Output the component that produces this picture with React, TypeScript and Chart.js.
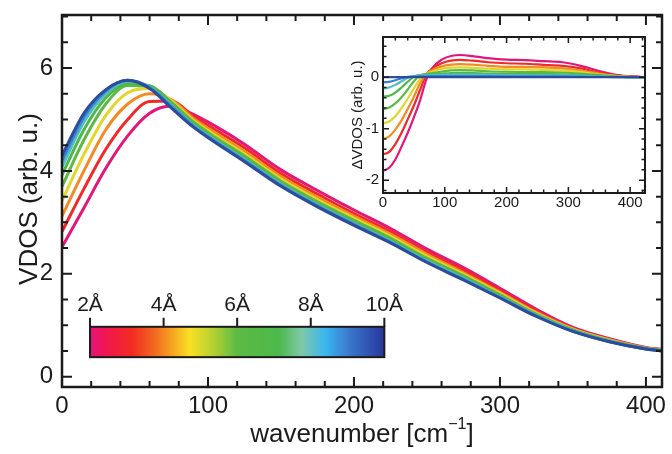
import React, { useEffect, useRef } from 'react';
import { Chart, registerables } from 'chart.js';

Chart.register(...registerables);

// ---------------- data ----------------
const SIZES = ['10Å', '9Å', '8Å', '7Å', '6Å', '5Å', '4Å', '3Å', '2Å'];

const WAVENUMBER = [0, 15, 30, 45, 60, 75, 90, 105, 125, 150, 175, 200, 225, 250, 275, 300, 325, 350, 375, 400, 415];
const VDOS_2A = [2.52, 3.28, 4.05, 4.68, 5.12, 5.26, 5.10, 4.87, 4.52, 4.02, 3.62, 3.24, 2.88, 2.48, 2.12, 1.72, 1.31, 0.96, 0.74, 0.57, 0.52];
const VDOS_3A = [2.82, 3.65, 4.42, 5.00, 5.35, 5.36, 5.06, 4.80, 4.45, 3.95, 3.55, 3.17, 2.82, 2.42, 2.07, 1.68, 1.28, 0.94, 0.73, 0.56, 0.51];
const VDOS_4A = [3.12, 4.00, 4.80, 5.30, 5.50, 5.38, 5.02, 4.74, 4.38, 3.89, 3.49, 3.12, 2.77, 2.38, 2.02, 1.64, 1.25, 0.93, 0.72, 0.56, 0.51];
const VDOS_5A = [3.42, 4.32, 5.08, 5.52, 5.60, 5.36, 4.98, 4.69, 4.33, 3.84, 3.44, 3.08, 2.73, 2.34, 1.99, 1.62, 1.23, 0.92, 0.71, 0.55, 0.50];
const VDOS_6A = [3.70, 4.60, 5.30, 5.66, 5.65, 5.33, 4.95, 4.65, 4.29, 3.80, 3.40, 3.04, 2.69, 2.30, 1.96, 1.59, 1.21, 0.91, 0.70, 0.55, 0.50];
const VDOS_7A = [3.92, 4.80, 5.42, 5.70, 5.65, 5.30, 4.92, 4.61, 4.25, 3.76, 3.36, 3.00, 2.66, 2.27, 1.93, 1.57, 1.20, 0.90, 0.69, 0.55, 0.50];
const VDOS_8A = [4.08, 4.95, 5.50, 5.74, 5.63, 5.27, 4.89, 4.59, 4.22, 3.74, 3.34, 2.98, 2.63, 2.25, 1.91, 1.55, 1.19, 0.89, 0.69, 0.54, 0.49];
const VDOS_9A = [4.20, 5.05, 5.55, 5.76, 5.62, 5.25, 4.87, 4.57, 4.20, 3.72, 3.32, 2.96, 2.61, 2.23, 1.89, 1.54, 1.18, 0.88, 0.68, 0.54, 0.49];
const VDOS_10A = [4.30, 5.12, 5.58, 5.76, 5.60, 5.22, 4.85, 4.55, 4.18, 3.70, 3.30, 2.94, 2.60, 2.22, 1.88, 1.53, 1.17, 0.88, 0.68, 0.54, 0.49];

const INSET_WAVENUMBER = [0, 10, 20, 30, 40, 50, 60, 70, 80, 95, 110, 125, 145, 170, 200, 230, 260, 290, 320, 350, 380, 410, 424];
const DVDOS_2A = [-1.82, -1.76, -1.60, -1.35, -1.08, -0.78, -0.45, -0.05, 0.18, 0.34, 0.41, 0.43, 0.41, 0.37, 0.34, 0.33, 0.31, 0.29, 0.22, 0.12, 0.04, 0.01, 0];
const DVDOS_3A = [-1.50, -1.45, -1.30, -1.08, -0.82, -0.55, -0.25, 0.05, 0.17, 0.27, 0.32, 0.335, 0.32, 0.29, 0.27, 0.26, 0.24, 0.22, 0.17, 0.09, 0.03, 0.01, 0];
const DVDOS_4A = [-1.20, -1.15, -1.02, -0.84, -0.62, -0.38, -0.12, 0.06, 0.14, 0.21, 0.245, 0.255, 0.245, 0.22, 0.20, 0.20, 0.19, 0.17, 0.13, 0.07, 0.02, 0, 0];
const DVDOS_5A = [-0.90, -0.86, -0.76, -0.60, -0.42, -0.22, -0.04, 0.06, 0.11, 0.16, 0.185, 0.19, 0.18, 0.165, 0.15, 0.15, 0.14, 0.13, 0.10, 0.05, 0.02, 0, 0];
const DVDOS_6A = [-0.62, -0.59, -0.51, -0.39, -0.24, -0.08, 0.03, 0.06, 0.08, 0.11, 0.13, 0.135, 0.13, 0.115, 0.105, 0.10, 0.10, 0.09, 0.07, 0.04, 0.01, 0, 0];
const DVDOS_7A = [-0.38, -0.36, -0.30, -0.20, -0.09, 0.01, 0.04, 0.05, 0.06, 0.07, 0.08, 0.085, 0.08, 0.07, 0.065, 0.065, 0.06, 0.055, 0.045, 0.025, 0.01, 0, 0];
const DVDOS_8A = [-0.22, -0.20, -0.15, -0.08, -0.01, 0.02, 0.03, 0.035, 0.04, 0.045, 0.05, 0.05, 0.05, 0.045, 0.04, 0.04, 0.035, 0.035, 0.03, 0.015, 0.005, 0, 0];
const DVDOS_9A = [-0.10, -0.09, -0.06, -0.02, 0.005, 0.01, 0.015, 0.015, 0.02, 0.02, 0.02, 0.02, 0.02, 0.02, 0.015, 0.015, 0.015, 0.015, 0.01, 0.005, 0, 0, 0];
const DVDOS_10A = [0, 0, 0, 0, 0, 0, 0, 0, 0, 0, 0, 0, 0, 0, 0, 0, 0, 0, 0, 0, 0, 0, 0];

const MAIN_VALUES = [VDOS_10A, VDOS_9A, VDOS_8A, VDOS_7A, VDOS_6A, VDOS_5A, VDOS_4A, VDOS_3A, VDOS_2A];
const INSET_VALUES = [DVDOS_10A, DVDOS_9A, DVDOS_8A, DVDOS_7A, DVDOS_6A, DVDOS_5A, DVDOS_4A, DVDOS_3A, DVDOS_2A];

const MAIN_X_TICKS = [0, 100, 200, 300, 400];
const MAIN_Y_TICKS = [0, 2, 4, 6];
const INSET_X_TICKS = [0, 100, 200, 300, 400];
const INSET_Y_TICKS = [-2, -1, 0];
const COLORBAR_LABELS = ['2Å', '4Å', '6Å', '8Å', '10Å'];

// ---------------- styles ----------------
const SERIES_COLORS = ['#2c4c9e', '#3a80d0', '#52bcc4', '#4cb848', '#5cba44', '#e2d62a', '#f48a22', '#f02a28', '#e3167a'];
const COLORBAR_STOPS: [number, string][] = [
  [0.0, '#e5147c'], [0.06, '#f0184c'], [0.14, '#f22a22'], [0.22, '#f26a20'], [0.29, '#f6ae22'],
  [0.34, '#f8e024'], [0.42, '#b4d032'], [0.5, '#5cba44'], [0.64, '#4cb84a'], [0.72, '#80c8a8'],
  [0.8, '#38b6f0'], [0.88, '#3a78cc'], [1.0, '#27369c'],
];
const FONT = '"Liberation Sans", Arial, Helvetica, sans-serif';
const INK = '#1b1b1b';

// ---------------- plugins ----------------
const framePlugin = {
  id: 'frame',
  beforeDatasetsDraw(chart: any, _a: any, o: any) {
    if (!o || !o.fillBg) return;
    const { ctx, chartArea: a } = chart;
    ctx.save();
    ctx.fillStyle = '#fff';
    ctx.fillRect(a.left, a.top, a.right - a.left, a.bottom - a.top);
    ctx.restore();
  },
  afterDatasetsDraw(chart: any, _a: any, o: any) {
    if (!o || !o.enabled) return;
    const { ctx, chartArea: a } = chart;
    const xs = chart.scales.x, ys = chart.scales.y;
    ctx.save();
    ctx.strokeStyle = INK;
    ctx.lineWidth = o.tickWidth;
    ctx.beginPath();
    const isMajor = (v: number, step: number) => Math.abs(v / step - Math.round(v / step)) < 1e-6;
    let v = Math.ceil(xs.min / o.xMinor - 1e-9) * o.xMinor;
    for (; v <= xs.max + 1e-9; v += o.xMinor) {
      const len = isMajor(v, o.xMajor) ? o.majorLen : o.minorLen;
      const px = xs.getPixelForValue(v);
      ctx.moveTo(px, a.bottom); ctx.lineTo(px, a.bottom - len);
      ctx.moveTo(px, a.top); ctx.lineTo(px, a.top + len);
    }
    v = Math.ceil(ys.min / o.yMinor - 1e-9) * o.yMinor;
    for (; v <= ys.max + 1e-9; v += o.yMinor) {
      const len = isMajor(v, o.yMajor) ? o.majorLen : o.minorLen;
      const py = ys.getPixelForValue(v);
      ctx.moveTo(a.left, py); ctx.lineTo(a.left + len, py);
      ctx.moveTo(a.right, py); ctx.lineTo(a.right - len, py);
    }
    ctx.stroke();
    ctx.lineWidth = o.frameWidth;
    ctx.strokeRect(a.left, a.top, a.right - a.left, a.bottom - a.top);
    ctx.restore();
  },
};

const titlePlugin = {
  id: 'titles',
  afterDraw(chart: any, _a: any, o: any) {
    if (!o) return;
    const { ctx, chartArea: a } = chart;
    ctx.save();
    ctx.fillStyle = INK;
    ctx.textBaseline = 'alphabetic';
    if (o.x) {
      const x = o.x;
      ctx.font = `${x.size}px ${FONT}`;
      const w1 = ctx.measureText(x.text).width;
      const w3 = ctx.measureText(x.after || '').width;
      ctx.font = `${x.supSize}px ${FONT}`;
      const w2 = x.sup ? ctx.measureText(x.sup).width : 0;
      let sx = (a.left + a.right) / 2 - (w1 + w2 + w3) / 2;
      ctx.textAlign = 'left';
      ctx.font = `${x.size}px ${FONT}`;
      ctx.fillText(x.text, sx, x.baseline);
      sx += w1;
      if (x.sup) {
        ctx.font = `${x.supSize}px ${FONT}`;
        ctx.fillText(x.sup, sx, x.baseline - x.supRise);
        sx += w2;
      }
      ctx.font = `${x.size}px ${FONT}`;
      if (x.after) ctx.fillText(x.after, sx, x.baseline);
    }
    if (o.y) {
      const y = o.y;
      ctx.font = `${y.size}px ${FONT}`;
      ctx.textAlign = 'center';
      ctx.translate(y.baselineX, (a.top + a.bottom) / 2 + (y.shift || 0));
      ctx.rotate(-Math.PI / 2);
      ctx.fillText(y.text, 0, 0);
    }
    ctx.restore();
  },
};

const colorbarPlugin = {
  id: 'colorbar',
  afterDatasetsDraw(chart: any, _a: any, o: any) {
    if (!o || !o.enabled) return;
    const { ctx } = chart;
    const xs = chart.scales.x, ys = chart.scales.y;
    const l = xs.getPixelForValue(o.x0), r = xs.getPixelForValue(o.x1);
    const t = ys.getPixelForValue(o.y1), b = ys.getPixelForValue(o.y0);
    ctx.save();
    const g = ctx.createLinearGradient(l, 0, r, 0);
    COLORBAR_STOPS.forEach(([p, c]) => g.addColorStop(p, c));
    ctx.fillStyle = g;
    ctx.fillRect(l, t, r - l, b - t);
    ctx.strokeStyle = INK;
    ctx.lineWidth = 2;
    ctx.strokeRect(l, t, r - l, b - t);
    ctx.beginPath();
    const n = COLORBAR_LABELS.length;
    ctx.font = `${o.fontSize}px ${FONT}`;
    ctx.fillStyle = INK;
    ctx.textAlign = 'center';
    ctx.textBaseline = 'alphabetic';
    for (let i = 0; i < n; i++) {
      const px = l + ((r - l) * i) / (n - 1);
      ctx.moveTo(px, t);
      ctx.lineTo(px, t - o.tickLen);
      ctx.fillText(COLORBAR_LABELS[i], px, t - o.labelGap);
    }
    ctx.stroke();
    ctx.restore();
  },
};

function makeDatasets(xs: number[], values: number[][], width: number) {
  return values.map((vals, i) => ({
    label: SIZES[i],
    data: xs.map((x, j) => ({ x, y: vals[j] })),
    borderColor: SERIES_COLORS[i],
    backgroundColor: SERIES_COLORS[i],
    borderWidth: width,
    pointRadius: 0,
    fill: false,
    cubicInterpolationMode: 'monotone' as const,
  }));
}

const tickSetter = (arr: number[]) => (s: any) => {
  s.ticks = arr.map((value) => ({ value }));
};

export default function App() {
  const mainRef = useRef<HTMLCanvasElement>(null);
  const insetRef = useRef<HTMLCanvasElement>(null);

  useEffect(() => {
    const main = new Chart(mainRef.current as HTMLCanvasElement, {
      type: 'line',
      data: { datasets: makeDatasets(WAVENUMBER, MAIN_VALUES, 3) as any },
      plugins: [framePlugin, colorbarPlugin, titlePlugin],
      options: {
        responsive: false,
        animation: false,
        events: [],
        layout: { padding: { left: 0, right: 10, top: 15, bottom: 0 } },
        scales: {
          x: {
            type: 'linear', min: 0, max: 411,
            afterBuildTicks: tickSetter(MAIN_X_TICKS),
            afterFit: (s: any) => { s.height = 67; s.paddingLeft = 0; s.paddingRight = 0; },
            grid: { display: false, drawTicks: false },
            border: { display: false },
            ticks: { font: { family: FONT, size: 24 }, color: INK, padding: 5, maxRotation: 0, autoSkip: false },
          },
          y: {
            type: 'linear', min: -0.2, max: 7.03,
            afterBuildTicks: tickSetter(MAIN_Y_TICKS),
            afterFit: (s: any) => { s.width = 62; s.paddingTop = 0; s.paddingBottom = 0; },
            grid: { display: false, drawTicks: false },
            border: { display: false },
            ticks: { font: { family: FONT, size: 24 }, color: INK, padding: 9, autoSkip: false },
          },
        },
        plugins: {
          legend: { display: false },
          tooltip: { enabled: false },
          frame: { enabled: true, xMajor: 100, xMinor: 20, yMajor: 2, yMinor: 0.5, majorLen: 10, minorLen: 6, tickWidth: 2, frameWidth: 2.5 },
          colorbar: { enabled: true, x0: 19.2, x1: 220.8, y0: 0.38, y1: 0.97, tickLen: 9, labelGap: 16, fontSize: 21 },
          titles: {
            x: { text: 'wavenumber [cm', sup: '−1', after: ']', size: 26, supSize: 16, supRise: 13, baseline: 442 },
            y: { text: 'VDOS (arb. u.)', size: 26, baselineX: 37, shift: -2 },
          },
        } as any,
      },
    });

    const inset = new Chart(insetRef.current as HTMLCanvasElement, {
      type: 'line',
      data: { datasets: makeDatasets(INSET_WAVENUMBER, INSET_VALUES, 2.2) as any },
      plugins: [framePlugin, titlePlugin],
      options: {
        responsive: false,
        animation: false,
        events: [],
        layout: { padding: { left: 0, right: 8, top: 7, bottom: 0 } },
        scales: {
          x: {
            type: 'linear', min: 0, max: 424,
            afterBuildTicks: tickSetter(INSET_X_TICKS),
            afterFit: (s: any) => { s.height = 22; s.paddingLeft = 0; s.paddingRight = 0; },
            grid: { display: false, drawTicks: false },
            border: { display: false },
            ticks: { font: { family: FONT, size: 15 }, color: INK, padding: 1, maxRotation: 0, autoSkip: false },
          },
          y: {
            type: 'linear', min: -2.25, max: 0.78,
            afterBuildTicks: tickSetter(INSET_Y_TICKS),
            afterFit: (s: any) => { s.width = 48; s.paddingTop = 0; s.paddingBottom = 0; },
            grid: { display: false, drawTicks: false },
            border: { display: false },
            ticks: { font: { family: FONT, size: 15 }, color: INK, padding: 4, autoSkip: false },
          },
        },
        plugins: {
          legend: { display: false },
          tooltip: { enabled: false },
          frame: { enabled: true, fillBg: true, xMajor: 100, xMinor: 20, yMajor: 1, yMinor: 0.2, majorLen: 6, minorLen: 3.5, tickWidth: 1.5, frameWidth: 2 },
          titles: {
            y: { text: 'ΔVDOS (arb. u.)', size: 15, baselineX: 27, shift: 0 },
          },
        } as any,
      },
    });

    return () => {
      main.destroy();
      inset.destroy();
    };
  }, []);

  return (
    <div style={{ position: 'absolute', left: 0, top: 0, width: 672, height: 454, background: '#fff', overflow: 'hidden' }}>
      <canvas ref={mainRef} width={672} height={454} style={{ position: 'absolute', left: 0, top: 0 }} />
      <canvas ref={insetRef} width={318} height={185} style={{ position: 'absolute', left: 335, top: 30 }} />
    </div>
  );
}
